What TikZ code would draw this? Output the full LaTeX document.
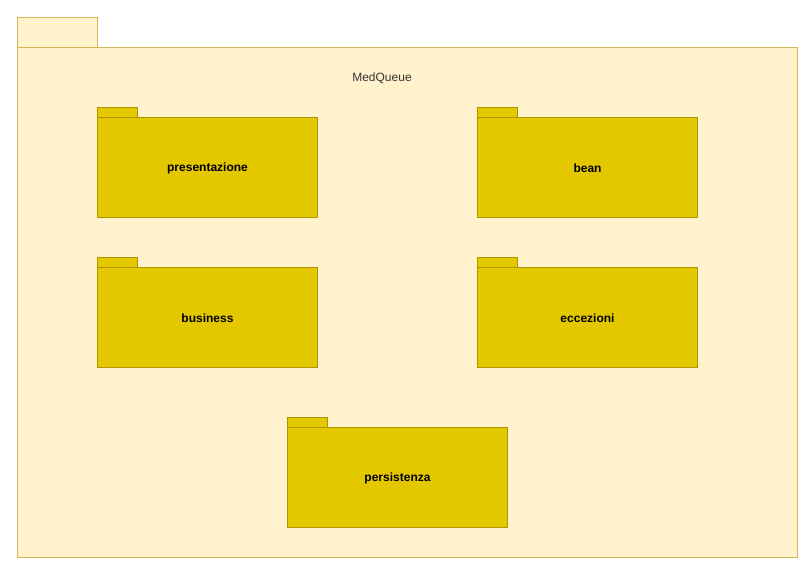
\documentclass[tikz,border=0pt]{standalone}
\usepackage{fontspec}
\setmainfont{Liberation Sans}
\definecolor{outerfill}{HTML}{FFF2CC}
\definecolor{outerline}{HTML}{D6B656}
\definecolor{pkgfill}{HTML}{E3C800}
\definecolor{pkgline}{HTML}{B09500}
\begin{document}
\begin{tikzpicture}[x=1pt,y=-1pt,
  outerbox/.style={draw=outerline,fill=outerfill,line width=1pt},
  pkgbox/.style={draw=pkgline,fill=pkgfill,line width=1pt},
  pkglabel/.style={font=\fontsize{12}{14}\selectfont\bfseries,text=black},
  ]
\useasboundingbox (0,0) rectangle (801,562);
% outer package MedQueue
\draw[outerbox] (17,17) rectangle (97,47);
\draw[outerbox] (17,47) rectangle (797,557);
\node[font=\fontsize{12}{14}\selectfont,text=black!80] (medqueue) at (382,78) {MedQueue};
% inner packages: tab, body and name
\foreach \nm/\px/\py/\lbl in {pres/97/107/presentazione, bean/477/107/bean, bus/97/257/business, ecc/477/257/eccezioni, pers/287/417/persistenza}{
  \draw[pkgbox] (\px,\py) rectangle ++(40,10);
  \draw[pkgbox] (\px,\py+10) rectangle ++(220,100);
  \node[pkglabel] (\nm) at (\px+110.5,\py+61) {\lbl};
}
\end{tikzpicture}
\end{document}
